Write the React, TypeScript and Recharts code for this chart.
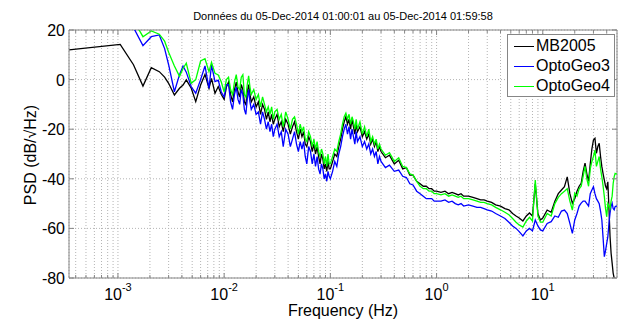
import React from "react";
import { LineChart, Line, XAxis, YAxis, CartesianGrid, ReferenceLine } from "recharts";

// frequency (Hz), shared by the three sensors
const FREQ = [
  // below 10 mHz
  0.000346, 0.00105, 0.0014, 0.00172, 0.00206, 0.00245, 0.00275, 0.003, 0.0034, 0.0038, 0.0041,
  0.0044, 0.0049, 0.0054, 0.006, 0.0066, 0.0072, 0.0076, 0.0082, 0.0088, 0.0094,
  // 0.01 - 0.1
  0.01, 0.0105, 0.011, 0.0115, 0.012, 0.0125, 0.013, 0.0135, 0.014, 0.0145, 0.015, 0.0155, 0.016, 0.0165, 0.017,
  0.0175, 0.018, 0.019, 0.02, 0.021, 0.022, 0.023, 0.024, 0.025, 0.026, 0.027, 0.028, 0.029, 0.03, 0.0315,
  0.033, 0.0345, 0.036, 0.038, 0.04, 0.042, 0.044, 0.046, 0.048, 0.05, 0.052, 0.054, 0.056, 0.058, 0.06,
  0.0625, 0.065, 0.0675, 0.07, 0.0725, 0.075, 0.0775, 0.08, 0.0825, 0.085, 0.0875, 0.09, 0.0925, 0.095, 0.0975,
  // 0.1 - 1
  0.1, 0.105, 0.11, 0.115, 0.12, 0.125, 0.13, 0.135, 0.14, 0.145, 0.15, 0.155, 0.16, 0.165,
  0.17, 0.175, 0.18, 0.19, 0.2, 0.21, 0.22, 0.23, 0.24, 0.25, 0.26, 0.27, 0.28, 0.29,
  0.3, 0.33, 0.36, 0.4, 0.44, 0.48, 0.52, 0.56, 0.6, 0.65, 0.7, 0.75, 0.8, 0.85, 0.9, 0.95,
  // 1 - 10
  1, 1.1, 1.2, 1.3, 1.4, 1.5, 1.6, 1.7, 1.8, 2, 2.2, 2.4, 2.6, 2.8, 3,
  3.3, 3.6, 4, 4.4, 4.8, 5.2, 5.6, 6, 6.5, 7, 7.5, 8, 8.5, 9, 9.5,
  // 10 - 50
  10, 11, 12, 13, 14, 15, 16, 17, 18, 19, 20, 21, 22, 23, 24, 25, 26, 27, 28, 29, 30,
  31, 32, 33, 34, 35, 36, 37, 38, 39, 40, 41, 42, 43, 44, 45, 46, 47, 48, 49, 50,
];

// PSD in dB/sqrt(Hz)
const MB2005 = [
  12, 14.2, 6, -2.6, 4.8, 3.2, 1, -1.5, -6.2, -3.5, -2.2,
  -0.1, -3.5, -8.9, -2.2, 2.1, -3.5, 0.5, -5.5, -2.8, -6,
  -8, -3, -1, -6, -9, -4, -1, -5, -7, -2, -4, -9, -10, -5, -2,
  -6, -9, -7, -11, -9, -14, -10, -12, -16, -13, -17, -14, -18, -16, -14,
  -19, -17, -21, -16, -18, -22, -19, -17, -21, -24, -20, -23, -21, -26, -27,
  -23, -25, -29, -26, -30, -27, -31, -34, -30, -32, -36, -34, -37, -33, -36,
  -36, -33, -30, -31, -27, -24, -20, -17, -15, -18, -16, -20, -16, -19,
  -22, -18, -21, -19, -23, -21, -24, -22, -26, -24, -27, -25, -29, -27,
  -29, -31.5, -30.5, -34, -32.5, -36, -35.5, -38.5, -38.5, -41, -42, -43, -43, -44, -44, -45,
  -45, -45.5, -45, -46, -45.5, -46, -46.5, -46, -47, -47, -47.5, -48, -48.5, -48.5, -49,
  -49.5, -50.5, -51, -52, -52.5, -54, -55, -55.8, -57, -55, -53.8, -55, -42, -54, -56.6,
  -55.8, -52.6, -53.5, -49, -46, -44.5, -43.2, -39.2, -46, -49.8, -48, -45, -43, -41.8, -37, -33.7, -38, -41, -34, -28, -24.4,
  -23.7, -29.7, -27, -25.7, -31, -35.1, -38, -40.5, -43, -44, -41.2, -52, -63.3, -70, -74, -78, -80, -82, -83, -84,
];

const OPTOGEO3 = [
  45, 32, 21, 13.7, 17.3, 18, 12.5, 6, -4.9, 2, 5.5,
  3, -2.9, -5.5, 0, 5.5, -3.5, 5.9, -0.8, -0.2, -5,
  -7, -2, -2, -9, -12, -6, -3, -8, -10, -4, -6, -12, -14, -8, -4,
  -9, -12, -10, -14, -13, -18, -13, -16, -20, -17, -21, -18, -23, -20, -18,
  -23, -21, -27, -20, -22, -27, -24, -21, -26, -29, -25, -28, -25, -31, -34,
  -27, -29, -34, -30, -35, -31, -36, -38, -34, -36, -40, -38, -41, -37, -39,
  -40, -37, -33, -35, -30, -27, -23, -20, -18, -22, -19, -24, -20, -23,
  -26, -21, -25, -23, -27, -25, -28, -26, -30, -28, -31, -29, -34, -31,
  -33, -35.5, -34.5, -37, -36.5, -39, -39.5, -42, -42.5, -45, -46, -47, -48, -48, -48, -49,
  -49, -49, -48.5, -49.5, -49, -50, -50.5, -50, -51, -50.5, -51, -51.5, -51.5, -52, -52.5,
  -53, -54, -55, -56, -57.5, -59, -60, -61.3, -63, -61, -60, -61, -56.6, -59, -60.6,
  -61, -58, -57.3, -55, -55.5, -53, -52.6, -54, -58, -62, -56.6, -54, -51, -49.8, -49, -49, -50, -51, -46, -44.5, -43.2,
  -46, -48, -49, -50, -53, -56.6, -64, -71.4, -69, -66, -63.3, -58, -53.8, -51, -49.8, -52, -52.5, -51.2, -51, -51,
];

const OPTOGEO4 = [
  50, 36, 24, 17.3, 19.6, 18.3, 15.5, 11, 5.5, 1.3, 4.5,
  6.6, -1.5, 0, 7.5, 8.4, 3.2, 7, 2.5, 1.9, -1,
  -5, 0, 1, -4, -6, -1, 2, -3, -4, 1, 2, -6, -7, -2, 1.5,
  -3, -6, -4, -8, -6, -11, -7, -10, -13, -11, -14, -11, -16, -13, -12,
  -16, -14, -19, -13, -16, -20, -16, -15, -18, -22, -18, -21, -19, -24, -25,
  -21, -23, -27, -24, -28, -25, -29, -31, -28, -30, -34, -31, -35, -30, -34,
  -34, -31, -28, -29, -25, -22, -18, -15, -13.5, -16, -14, -18, -15, -17,
  -20, -16, -20, -17, -22, -19, -23, -20, -25, -23, -26, -24, -28, -26,
  -28, -30.5, -29.5, -33, -31.5, -35, -35.5, -38, -38.5, -41, -43, -44, -44, -45, -45, -46,
  -46, -46.5, -46, -47, -46.5, -47, -47.5, -47, -48, -48, -48.5, -49, -49.5, -49.5, -50,
  -50.5, -51.5, -52.5, -53.5, -54.5, -56, -57.5, -58.6, -59.5, -57, -55.5, -57, -40.5, -55, -57.5,
  -57.5, -54, -55, -50, -47.5, -46, -45, -44, -49, -52.6, -45.8, -47, -44, -43, -39, -35, -40, -43, -36, -33, -31,
  -28.4, -35, -33, -31, -36, -39.2, -43, -47.2, -52, -55.3, -50, -51, -52, -49, -47, -42, -39.2, -37.8, -38, -38,
];

const Y_TICKS = [-80, -60, -40, -20, 0, 20];
const MAJOR_TICKS = [0.001, 0.01, 0.1, 1, 10];
const MAJOR_EXP = ["-3", "-2", "-1", "0", "1"];
const MINOR_TICKS = [
  0.0004, 0.0005, 0.0006, 0.0007, 0.0008, 0.0009,
  0.002, 0.003, 0.004, 0.005, 0.006, 0.007, 0.008, 0.009,
  0.02, 0.03, 0.04, 0.05, 0.06, 0.07, 0.08, 0.09,
  0.2, 0.3, 0.4, 0.5, 0.6, 0.7, 0.8, 0.9,
  2, 3, 4, 5, 6, 7, 8, 9,
  20, 30, 40,
];

const SERIES = [
  { key: "mb", name: "MB2005", color: "#000000" },
  { key: "og3", name: "OptoGeo3", color: "#0000ff" },
  { key: "og4", name: "OptoGeo4", color: "#00ff00" },
];

const data = FREQ.map((f, i) => ({ f, mb: MB2005[i], og3: OPTOGEO3[i], og4: OPTOGEO4[i] }));

const W = 637;
const H = 320;
const LEFT = 69;
const RIGHT = 617;
const TOP = 30;
const BOTTOM = 278;
const AXIS = "#868686";
const FONT = "'Liberation Sans', Arial, sans-serif";

function XTick(props: any) {
  const { x, payload } = props;
  const idx = MAJOR_TICKS.indexOf(payload.value);
  const len = idx >= 0 ? 5 : 3;
  return (
    <g>
      <line x1={x} x2={x} y1={BOTTOM} y2={BOTTOM - len} stroke={AXIS} />
      <line x1={x} x2={x} y1={TOP} y2={TOP + len} stroke={AXIS} />
      {idx >= 0 && (
        <text x={x} y={300} textAnchor="middle" fontSize={16} fontFamily={FONT} fill="#000">
          <tspan>10</tspan>
          <tspan dy={-9} fontSize={11}>{MAJOR_EXP[idx]}</tspan>
        </text>
      )}
    </g>
  );
}

function YTick(props: any) {
  const { y, payload } = props;
  return (
    <g>
      <line x1={LEFT} x2={LEFT + 5} y1={y} y2={y} stroke={AXIS} />
      <line x1={RIGHT} x2={RIGHT - 5} y1={y} y2={y} stroke={AXIS} />
      <text x={LEFT - 4} y={y + 6} textAnchor="end" fontSize={16} fontFamily={FONT} fill="#000">
        {payload.value}
      </text>
    </g>
  );
}

export default function App() {
  return (
    <div style={{ position: "absolute", left: 0, top: 0, width: W, height: H, background: "#fff", fontFamily: FONT }}>
      <LineChart width={W} height={H} data={data} margin={{ top: TOP, right: W - RIGHT, bottom: 0, left: 0 }}>
        <CartesianGrid stroke="#b4b4b4" strokeDasharray="1 2" />
        <XAxis
          dataKey="f"
          type="number"
          scale="log"
          domain={[0.000346, 50]}
          allowDataOverflow
          ticks={[...MINOR_TICKS, ...MAJOR_TICKS].sort((a, b) => a - b)}
          tick={<XTick />}
          tickLine={false}
          axisLine={{ stroke: AXIS }}
          height={H - BOTTOM}
          interval={0}
        />
        <YAxis
          type="number"
          domain={[-80, 20]}
          ticks={Y_TICKS}
          allowDataOverflow
          tick={<YTick />}
          tickLine={false}
          axisLine={{ stroke: AXIS }}
          width={LEFT}
          interval={0}
        />
        <ReferenceLine y={20} stroke={AXIS} />
        <ReferenceLine x={50} stroke={AXIS} />
        {SERIES.map((s) => (
          <Line
            key={s.key}
            dataKey={s.key}
            name={s.name}
            stroke={s.color}
            strokeWidth={1.3}
            dot={false}
            type="linear"
            isAnimationActive={false}
          />
        ))}
      </LineChart>

      <div style={{ position: "absolute", left: LEFT, width: RIGHT - LEFT, top: 9, textAlign: "center", fontSize: 11, lineHeight: "14px" }}>
        Données du 05-Dec-2014 01:00:01 au 05-Dec-2014 01:59:58
      </div>
      <div style={{ position: "absolute", left: LEFT, width: RIGHT - LEFT, top: 303, textAlign: "center", fontSize: 16, lineHeight: "16px" }}>
        Frequency (Hz)
      </div>
      <div
        style={{
          position: "absolute",
          left: 31,
          top: 155,
          transform: "translate(-50%, -50%) rotate(-90deg)",
          whiteSpace: "nowrap",
          fontSize: 16,
          lineHeight: "18px",
        }}
      >
        PSD (dB/√Hz)
      </div>

      <div
        style={{
          position: "absolute",
          left: 507,
          top: 34,
          width: 106,
          height: 60,
          border: `1px solid ${AXIS}`,
          background: "#fff",
          paddingTop: 1,
          boxSizing: "content-box",
        }}
      >
        {SERIES.map((s) => (
          <div key={s.key} style={{ display: "flex", alignItems: "center", height: 20, fontSize: 16, lineHeight: "20px" }}>
            <span style={{ display: "inline-block", width: 20, marginLeft: 6, marginRight: 2, borderTop: `1.5px solid ${s.color}` }} />
            <span>{s.name}</span>
          </div>
        ))}
      </div>
    </div>
  );
}
